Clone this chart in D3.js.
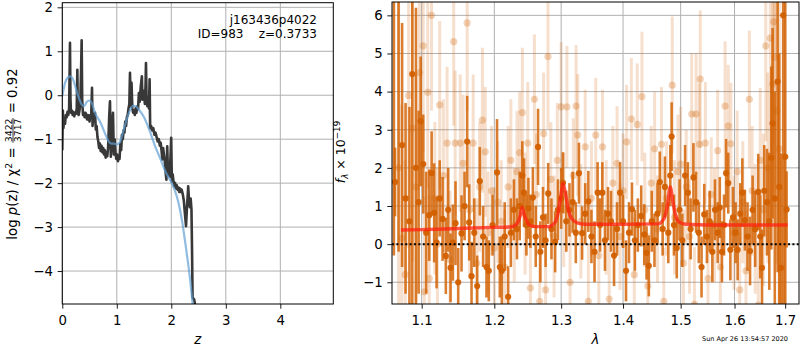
<!DOCTYPE html>
<html>
<head>
<meta charset="utf-8">
<script src="https://cdn.jsdelivr.net/npm/d3@7"></script>
<style>
body { margin: 0; background: #fff; }
svg { font-family: "DejaVu Sans", sans-serif; }
text { white-space: pre; }
</style>
</head>
<body>
<svg width="800" height="350"></svg>
<script>
// ---- left panel: log p(z) ----
const zTicks = [0, 1, 2, 3, 4]
const pzTicks = [-4, -3, -2, -1, 0, 1, 2]

// [z, log p(z)] - dark jagged curve
const logpz = [
  [0.000,-1.25],[0.010,-0.35],[0.020,-0.75],[0.035,-0.55],[0.050,-0.65],[0.065,-0.45],[0.080,-0.50],
  [0.095,-0.38],[0.110,-0.45],[0.125,-0.30],[0.135,0.60],[0.141,1.19],[0.150,-0.10],[0.160,-0.40],
  [0.175,-0.35],[0.190,-0.45],[0.205,-0.38],[0.220,-0.48],[0.235,-0.40],[0.250,-0.42],[0.265,-0.30],
  [0.276,0.58],[0.285,-0.40],[0.300,-0.45],[0.315,-0.35],[0.330,-0.20],[0.345,0.60],[0.355,1.25],
  [0.365,-0.10],[0.380,-0.45],[0.395,-0.40],[0.410,-0.50],[0.425,-0.40],[0.440,-0.45],[0.455,-0.55],
  [0.470,-0.45],[0.485,-0.50],[0.500,-0.60],[0.515,-0.45],[0.530,-0.50],[0.545,0.17],[0.555,-0.70],
  [0.570,-0.45],[0.585,-0.55],[0.600,-0.40],[0.615,-0.78],[0.630,-0.70],[0.645,-0.95],[0.660,-1.05],
  [0.675,-1.20],[0.690,-1.10],[0.705,-1.27],[0.720,-1.15],[0.735,-1.30],[0.750,-1.20],[0.765,-1.35],
  [0.780,-1.25],[0.795,-1.42],[0.810,-1.30],[0.825,-1.39],[0.840,-1.20],[0.860,-0.50],[0.875,-0.14],
  [0.890,-1.40],[0.905,-1.10],[0.930,-0.40],[0.945,-1.35],[0.960,-1.00],[0.975,-1.30],[0.990,-1.45],
  [1.005,-1.35],[1.020,-1.50],[1.035,-1.40],[1.050,-1.45],[1.065,-1.10],[1.080,-1.25],[1.095,-0.90],
  [1.110,-1.00],[1.125,-0.80],[1.140,-0.85],[1.155,-0.60],[1.170,-0.70],[1.185,-0.50],[1.200,-0.45],
  [1.215,-0.30],[1.230,-0.20],[1.242,0.51],[1.255,-0.25],[1.270,0.28],[1.285,-0.30],[1.300,-0.40],
  [1.315,-0.35],[1.330,-0.45],[1.345,-0.30],[1.360,-0.40],[1.375,-0.25],[1.390,-0.32],[1.405,0.05],
  [1.420,-0.15],[1.440,0.20],[1.460,0.43],[1.470,-0.10],[1.485,-0.05],[1.500,0.10],[1.515,-0.20],
  [1.528,0.25],[1.535,0.73],[1.545,0.00],[1.560,-0.25],[1.575,-0.10],[1.590,-0.30],[1.602,0.36],
  [1.612,-0.75],[1.630,-0.70],[1.650,-0.80],[1.670,-0.75],[1.690,-0.90],[1.710,-0.85],[1.730,-0.95],
  [1.750,-1.05],[1.770,-1.00],[1.790,-1.15],[1.805,-1.08],[1.820,-1.25],[1.835,-1.46],[1.850,-1.20],
  [1.865,-1.35],[1.880,-1.50],[1.895,-1.75],[1.910,-1.92],[1.925,-1.16],[1.940,-1.80],[1.955,-1.60],
  [1.970,-1.85],[1.985,-1.40],[1.998,-0.97],[2.010,-1.96],[2.025,-1.80],[2.040,-1.95],[2.055,-2.07],
  [2.070,-2.00],[2.085,-2.12],[2.100,-2.05],[2.115,-2.15],[2.130,-2.10],[2.145,-2.20],[2.160,-2.12],
  [2.175,-2.20],[2.190,-2.15],[2.210,-2.25],[2.230,-2.40],[2.250,-2.70],[2.270,-2.98],[2.285,-2.60],
  [2.300,-2.30],[2.310,-2.07],[2.325,-2.40],[2.340,-2.55],[2.355,-2.35],[2.370,-2.60],[2.380,-3.50],
  [2.390,-4.60],[2.420,-4.65],[2.440,-4.80]
]

// [z, chi2 curve] - smooth light blue
const chi2curve = [
  [0.00,-0.02],[0.05,0.28],[0.10,0.40],[0.15,0.43],[0.20,0.35],[0.25,0.15],[0.30,-0.05],[0.35,-0.20],
  [0.40,-0.25],[0.45,-0.15],[0.50,-0.12],[0.55,-0.20],[0.60,-0.40],[0.70,-0.62],[0.80,-0.92],
  [0.85,-1.05],[0.90,-1.10],[0.95,-1.10],[1.00,-1.12],[1.05,-1.08],[1.10,-0.90],[1.15,-0.68],
  [1.20,-0.48],[1.25,-0.32],[1.30,-0.24],[1.35,-0.25],[1.40,-0.32],[1.50,-0.50],[1.60,-0.80],
  [1.70,-1.15],[1.80,-1.45],[1.90,-1.76],[2.00,-1.98],[2.10,-2.30],[2.15,-2.55],[2.20,-2.88],
  [2.25,-3.30],[2.30,-3.75],[2.35,-4.25],[2.40,-4.85]
]

// ---- right panel: 1D spectrum ----
const lamTicks = [1.1, 1.2, 1.3, 1.4, 1.5, 1.6, 1.7]
const fluxTicks = [-1, 0, 1, 2, 3, 4, 5, 6]

// [lambda, flux, err] - dark (opaque) points
const specDark = [
  [1.0640,7.5,7.8],[1.0655,1.63,0.9],[1.0700,6.8,7.0],[1.0745,2.6,3.2],[1.0790,1.2,2.5],[1.0840,0.6,3.0],
  [1.0877,4.46,6.5],[1.0925,2.0,4.2],[1.0960,1.1,2.4],[1.0987,3.22,1.7],[1.1021,2.10,1.3],[1.1060,0.3,1.6],
  [1.1100,0.76,1.2],[1.1132,1.86,1.1],[1.1166,0.82,1.3],[1.1198,0.04,1.2],[1.1240,1.2,1.0],[1.1279,0.66,1.1],
  [1.1323,-0.31,1.0],[1.1355,0.9,1.1],[1.1387,-0.62,0.9],[1.1419,0.04,1.0],[1.1455,0.55,1.1],[1.1492,-1.00,0.9],
  [1.1538,0.28,1.0],[1.1580,1.0,0.9],[1.1616,2.69,1.2],[1.1644,0.57,1.0],[1.1677,-0.84,0.9],[1.1715,0.3,0.9],
  [1.1756,-1.10,0.8],[1.1793,1.65,0.9],[1.1840,0.2,0.8],[1.1888,-0.60,0.8],[1.1921,-0.70,0.8],[1.1975,0.5,0.8],
  [1.2039,1.88,1.4],[1.2079,-0.60,0.8],[1.2108,-0.70,0.9],[1.2150,0.2,0.9],[1.2200,-1.38,0.8],[1.2240,0.3,0.9],
  [1.2285,0.9,0.8],[1.2330,0.4,0.8],[1.2370,1.0,0.9],[1.2409,1.8,0.9],[1.2434,1.35,0.9],[1.2470,0.5,0.8],
  [1.2500,0.94,0.8],[1.2530,0.6,0.7],[1.2567,1.22,0.8],[1.2610,0.2,0.8],[1.2645,2.55,1.0],[1.2680,-0.2,0.8],
  [1.2720,0.7,0.8],[1.2760,0.1,0.7],[1.2800,1.33,0.8],[1.2850,0.4,0.8],[1.2907,0.06,0.8],[1.2950,0.9,0.8],
  [1.3000,1.2,0.8],[1.3028,1.61,0.8],[1.3080,0.6,0.8],[1.3130,0.9,0.7],[1.3180,1.1,0.8],[1.3230,0.3,0.8],
  [1.3280,1.86,0.8],[1.3330,0.29,0.7],[1.3380,0.8,0.8],[1.3430,1.12,0.8],[1.3480,0.2,0.7],[1.3530,-0.2,0.8],
  [1.3580,1.35,0.8],[1.3620,0.5,0.7],[1.3657,1.35,0.8],[1.3700,0.1,0.8],[1.3750,0.8,0.7],[1.3800,0.6,0.8],
  [1.3850,-0.3,0.8],[1.3900,0.4,0.7],[1.3950,1.35,0.8],[1.4000,0.6,0.7],[1.4050,-0.7,0.8],[1.4100,0.3,0.8],
  [1.4150,0.92,0.7],[1.4200,0.1,0.8],[1.4250,0.5,0.7],[1.4308,0.74,0.8],[1.4360,0.25,0.8],[1.4400,-0.23,0.7],
  [1.4439,-0.57,0.8],[1.4490,0.6,0.8],[1.4537,0.10,0.7],[1.4590,0.8,0.8],[1.4630,1.63,0.8],[1.4680,0.4,0.7],
  [1.4720,1.5,0.8],[1.4780,0.3,0.8],[1.4815,1.8,0.8],[1.4839,2.82,0.9],[1.4880,0.5,0.8],[1.4930,-0.1,0.8],
  [1.4980,0.9,0.8],[1.5030,0.1,0.7],[1.5080,1.8,0.8],[1.5130,1.35,0.8],[1.5180,0.4,0.8],[1.5231,1.75,0.9],
  [1.5280,1.1,0.8],[1.5330,0.3,0.8],[1.5380,-0.6,0.8],[1.5430,0.78,0.8],[1.5480,0.2,0.7],[1.5530,0.6,0.8],
  [1.5580,-0.2,0.8],[1.5630,0.9,0.8],[1.5680,0.3,0.8],[1.5720,0.96,0.8],[1.5760,-0.2,0.8],[1.5800,0.5,0.8],
  [1.5839,1.86,0.9],[1.5880,1.6,0.8],[1.5920,-0.15,0.8],[1.5970,0.7,0.8],[1.6020,0.3,0.8],[1.6060,-0.15,0.8],
  [1.6110,0.8,0.8],[1.6150,1.35,0.9],[1.6200,0.63,0.8],[1.6250,0.2,0.9],[1.6300,-0.18,0.9],[1.6350,0.9,0.9],
  [1.6400,0.4,1.0],[1.6461,1.37,1.0],[1.6500,0.2,1.1],[1.6535,-0.62,1.0],[1.6580,1.40,1.2],[1.6634,1.10,1.4],
  [1.6680,0.6,1.8],[1.6720,2.26,2.4],[1.6746,3.17,2.5],[1.6790,1.2,2.8],[1.6847,4.26,5.0],[1.6880,1.5,3.5],
  [1.6915,-0.62,3.0],[1.6960,6.0,8.0],[1.7002,2.29,6.0],[1.7029,0.91,1.0]
]

// [lambda, flux, err] - faint points
const specFaint = [
  [1.0700,2.0,5.0],[1.0740,0.16,3.5],[1.0785,-0.8,3.0],[1.0830,3.9,4.0],[1.0880,3.04,3.5],[1.0925,1.5,3.0],
  [1.0970,4.5,3.0],[1.1020,5.2,2.8],[1.1035,-1.25,2.5],[1.1080,3.98,2.5],[1.1100,-0.9,2.2],[1.1130,6.0,2.5],
  [1.1175,1.2,2.0],[1.1210,0.0,2.0],[1.1240,3.65,2.2],[1.1290,1.8,2.0],[1.1340,2.65,2.0],[1.1380,-0.4,1.8],
  [1.1430,5.31,2.2],[1.1450,2.65,1.9],[1.1520,2.65,1.8],[1.1560,2.12,1.8],[1.1616,5.8,2.3],[1.1650,0.9,1.8],
  [1.1700,2.65,1.8],[1.1750,-0.5,1.7],[1.1790,1.5,1.7],[1.1830,3.25,1.9],[1.1870,2.42,1.7],[1.1910,0.3,1.6],
  [1.1960,1.4,1.7],[1.2000,-0.1,1.6],[1.2050,1.1,1.6],[1.2100,0.6,1.6],[1.2150,-0.6,1.5],[1.2200,1.5,1.6],
  [1.2240,2.2,1.6],[1.2290,0.5,1.5],[1.2330,1.9,1.6],[1.2370,2.4,1.6],[1.2410,3.45,1.7],[1.2450,0.8,1.6],
  [1.2490,2.65,1.6],[1.2530,-1.15,1.5],[1.2590,3.8,1.7],[1.2620,1.3,1.6],[1.2670,-1.5,1.5],[1.2730,2.9,1.6],
  [1.2760,-1.2,1.6],[1.2796,4.92,1.9],[1.2840,1.7,1.5],[1.2890,0.2,1.6],[1.2940,2.2,1.5],[1.3000,3.6,1.7],
  [1.3040,0.9,1.5],[1.3090,3.6,1.6],[1.3140,-1.0,1.5],[1.3190,1.8,1.5],[1.3234,3.62,1.6],[1.3260,2.86,1.6],
  [1.3310,0.6,1.5],[1.3380,2.55,1.5],[1.3430,-1.5,1.5],[1.3480,1.2,1.5],[1.3550,2.86,1.5],[1.3600,-0.3,1.5],
  [1.3660,2.55,1.5],[1.3720,0.7,1.5],[1.3770,-1.44,1.4],[1.3830,1.6,1.5],[1.3900,2.12,1.5],[1.3950,0.2,1.4],
  [1.4000,1.4,1.5],[1.4060,2.68,1.5],[1.4140,3.28,1.6],[1.4190,-0.8,1.5],[1.4240,3.14,1.6],[1.4320,3.87,1.7],
  [1.4370,0.9,1.5],[1.4420,-1.1,1.4],[1.4480,1.6,1.5],[1.4540,2.5,1.5],[1.4590,0.4,1.4],[1.4660,2.62,1.5],
  [1.4700,-1.5,1.4],[1.4750,1.2,1.5],[1.4850,4.17,1.8],[1.4890,0.7,1.5],[1.4950,1.9,1.5],[1.5000,2.1,1.5],
  [1.5050,-0.5,1.4],[1.5100,1.5,1.5],[1.5160,0.2,1.5],[1.5200,3.41,1.6],[1.5250,-1.58,1.5],[1.5280,3.41,1.6],
  [1.5340,2.62,1.6],[1.5356,4.33,1.8],[1.5450,2.65,1.6],[1.5500,-0.9,1.5],[1.5560,1.3,1.5],[1.5620,0.5,1.5],
  [1.5680,2.45,1.6],[1.5730,-0.6,1.5],[1.5820,3.62,1.7],[1.5880,3.1,1.6],[1.5930,2.63,1.6],[1.5990,0.3,1.5],
  [1.6050,1.9,1.6],[1.6100,-1.2,1.5],[1.6160,1.1,1.6],[1.6220,-0.7,1.6],[1.6286,3.8,1.8],[1.6340,1.4,1.7],
  [1.6400,0.4,1.7],[1.6461,-1.6,1.7],[1.6500,2.2,1.9],[1.6560,0.9,2.0],[1.6610,5.2,2.5],[1.6650,2.0,2.5],
  [1.6700,5.4,3.0],[1.6746,4.2,3.0],[1.6770,5.83,3.2],[1.6790,4.9,3.5],[1.6830,3.5,4.0],[1.6880,2.5,4.0]
]

// [lambda, flux] - line model
const model = [
  [1.073,0.37],[1.100,0.38],[1.150,0.41],[1.200,0.44],[1.222,0.45],[1.230,0.49],[1.235,0.60],[1.238,0.76],
  [1.2405,0.96],[1.243,0.82],[1.247,0.62],[1.252,0.50],[1.260,0.46],[1.280,0.46],[1.290,0.56],[1.295,0.80],
  [1.299,1.22],[1.303,1.59],[1.307,1.30],[1.311,0.92],[1.316,0.68],[1.325,0.56],[1.340,0.52],[1.400,0.52],
  [1.460,0.53],[1.470,0.66],[1.476,0.98],[1.4815,1.50],[1.486,1.12],[1.491,0.76],[1.497,0.58],[1.510,0.52],
  [1.550,0.50],[1.650,0.50],[1.705,0.50]
]

const svg = d3.select("svg")
const L = {left: 62.3, right: 333.3, top: 2.7, bottom: 304}
const R = {left: 392, right: 799, top: 2, bottom: 304}
const fs = 13.3
const orange = "#d26000"

const xz = d3.scaleLinear().domain([0, 4.972]).range([L.left, L.right])
const ypz = d3.scaleLinear().domain([-4.75, 2.105]).range([L.bottom, L.top])
const xl = d3.scaleLog().domain([1.0616, 1.7284]).range([R.left, R.right])
const yf = d3.scaleLinear().domain([-1.57, 6.35]).range([R.bottom, R.top])

function panel(box, x, y, xt, yt, xfmt, id) {
    const g = svg.append("g")
    // grid
    g.append("g").selectAll("line").data(xt).join("line")
        .attr("x1", d => x(d)).attr("x2", d => x(d))
        .attr("y1", box.top).attr("y2", box.bottom)
        .attr("stroke", "#b0b0b0").attr("stroke-width", 1)
    g.append("g").selectAll("line").data(yt).join("line")
        .attr("y1", d => y(d)).attr("y2", d => y(d))
        .attr("x1", box.left).attr("x2", box.right)
        .attr("stroke", "#b0b0b0").attr("stroke-width", 1)

    svg.append("clipPath").attr("id", id)
        .append("rect").attr("x", box.left).attr("y", box.top)
        .attr("width", box.right - box.left).attr("height", box.bottom - box.top)
    return g
}

function axes(box, x, y, xt, yt, xfmt) {
    const ax = svg.append("g").attr("transform", `translate(0,${box.bottom})`)
        .call(d3.axisBottom(x).tickValues(xt).tickFormat(xfmt).tickSize(4.7).tickPadding(4.7))
    const ay = svg.append("g").attr("transform", `translate(${box.left},0)`)
        .call(d3.axisLeft(y).tickValues(yt).tickFormat(d3.format("d")).tickSize(4.7).tickPadding(4.7))
    ;[ax, ay].forEach(a => {
        a.select(".domain").remove()
        a.selectAll("text").attr("font-size", fs).attr("font-family", "DejaVu Sans").attr("fill", "#000")
        a.selectAll("line").attr("stroke", "#000").attr("stroke-width", 0.9)
    })
    ax.selectAll("text").attr("dy", null).attr("y", 20.7)
    svg.append("rect").attr("x", box.left).attr("y", box.top)
        .attr("width", box.right - box.left).attr("height", box.bottom - box.top)
        .attr("fill", "none").attr("stroke", "#000").attr("stroke-width", 1)
}

// left panel
panel(L, xz, ypz, zTicks, pzTicks, null, "clipL")
const gl = svg.append("g").attr("clip-path", "url(#clipL)")
gl.append("path").datum(logpz)
    .attr("d", d3.line().x(d => xz(d[0])).y(d => ypz(d[1])))
    .attr("fill", "none").attr("stroke", "#383838").attr("stroke-width", 2.6)
    .attr("stroke-linejoin", "round")
gl.append("path").datum(chi2curve)
    .attr("d", d3.line().curve(d3.curveMonotoneX).x(d => xz(d[0])).y(d => ypz(d[1])))
    .attr("fill", "none").attr("stroke", "#5f9fd3").attr("stroke-width", 2.2).attr("opacity", 0.7)
axes(L, xz, ypz, zTicks, pzTicks, d3.format("d"))

svg.append("text").attr("x", 317).attr("y", 24).attr("text-anchor", "end")
    .attr("font-size", 12).text("j163436p4022")
svg.append("text").attr("x", 317).attr("y", 38).attr("text-anchor", "end")
    .attr("font-size", 12).text("ID=983    z=0.3733")

// right panel
panel(R, xl, yf, lamTicks, fluxTicks, null, "clipR")
const gr = svg.append("g").attr("clip-path", "url(#clipR)")

function errorbars(data, w, barOp, dotOp, r) {
    const g = gr.append("g")
    g.selectAll("line").data(data).join("line")
        .attr("x1", d => xl(d[0])).attr("x2", d => xl(d[0]))
        .attr("y1", d => yf(d[1] - d[2])).attr("y2", d => yf(d[1] + d[2]))
        .attr("stroke", orange).attr("stroke-width", w).attr("stroke-opacity", barOp)
    g.selectAll("circle").data(data).join("circle")
        .attr("cx", d => xl(d[0])).attr("cy", d => yf(d[1])).attr("r", r)
        .attr("fill", orange).attr("fill-opacity", dotOp)
}
errorbars(specFaint, 3, 0.2, 0.28, 3.6)
errorbars(specDark, 2.6, 0.82, 0.95, 3.1)

gr.append("line").attr("x1", R.left).attr("x2", R.right)
    .attr("y1", yf(0)).attr("y2", yf(0))
    .attr("stroke", "#000").attr("stroke-width", 2).attr("stroke-dasharray", "2,2.4")
gr.append("path").datum(model)
    .attr("d", d3.line().curve(d3.curveMonotoneX).x(d => xl(d[0])).y(d => yf(d[1])))
    .attr("fill", "none").attr("stroke", "#ff2010").attr("stroke-width", 3.4).attr("opacity", 0.75)

axes(R, xl, yf, lamTicks, fluxTicks, d3.format(".1f"))

// axis labels
svg.append("text").attr("x", (L.left + L.right) / 2).attr("y", 344).attr("text-anchor", "middle")
    .attr("font-size", fs).attr("font-style", "italic").text("z")
svg.append("text").attr("x", (R.left + R.right) / 2).attr("y", 344).attr("text-anchor", "middle")
    .attr("font-size", fs).attr("font-style", "italic").text("λ")

function mathLabel(parts, size, cx, cy) {
    const g = svg.append("g")
    let x = 0
    parts.forEach(p => {
        if (p.frac) {
            const s = size * 0.7, ax = -size * 0.3
            const n = g.append("text").attr("font-size", s).attr("text-anchor", "middle").text(p.frac[0])
            const d = g.append("text").attr("font-size", s).attr("text-anchor", "middle").text(p.frac[1])
            const w = Math.max(n.node().getComputedTextLength(), d.node().getComputedTextLength()) + 2
            n.attr("x", x + w / 2).attr("y", ax - 1.4)
            d.attr("x", x + w / 2).attr("y", ax + 1.4 + s * 0.73)
            g.append("line").attr("x1", x + 0.5).attr("x2", x + w - 0.5)
                .attr("y1", ax).attr("y2", ax).attr("stroke", "#000").attr("stroke-width", 0.8)
            x += w
        } else {
            const small = p.sup || p.sub
            const t = g.append("text").attr("x", x)
                .attr("y", p.sup ? -size * 0.4 : p.sub ? size * 0.22 : 0)
                .attr("font-size", small ? size * 0.7 : size)
                .attr("font-style", p.it ? "italic" : null).text(p.t)
            x += t.node().getComputedTextLength()
        }
    })
    g.attr("transform", `translate(${cx},${cy}) rotate(-90) translate(${-x / 2},0)`)
}

mathLabel([{t: "log "}, {t: "p", it: true}, {t: "(z) / χ"}, {t: "2", sup: true}, {t: " = "},
    {frac: ["3422", "3717"]}, {t: " = 0.92"}], fs, 17, 154)
mathLabel([{t: "f", it: true}, {t: "λ", it: true, sub: true}, {t: " × 10"}, {t: "−19", sup: true}],
    12.5, 345, 152)

svg.append("text").attr("x", 788).attr("y", 341).attr("text-anchor", "end")
    .attr("font-size", 6.5).text("Sun Apr 26 13:54:57 2020")
</script>
</body>
</html>
